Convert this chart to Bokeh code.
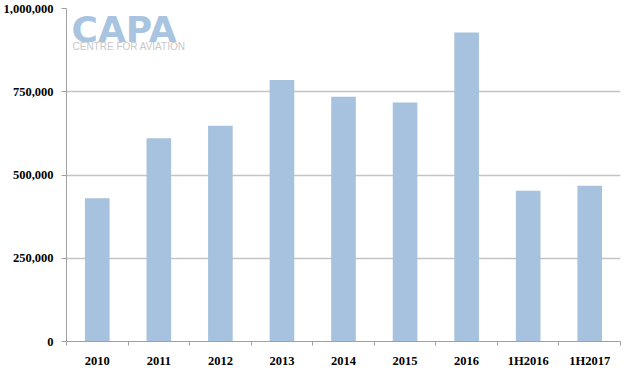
from bokeh.plotting import figure
from bokeh.models import Range1d, FixedTicker, NumeralTickFormatter, Label, ColumnDataSource
from bokeh.embed import file_html
from bokeh.resources import INLINE

categories = ["2010", "2011", "2012", "2013", "2014", "2015", "2016", "1H2016", "1H2017"]
values = [430000, 610000, 648000, 785000, 735000, 718000, 928000, 453000, 468000]
y_ticks = [0, 250000, 500000, 750000, 1000000]

n = len(categories)
centers = [i + 0.5 for i in range(n)]
bounds = [float(i) for i in range(n + 1)]

src = ColumnDataSource(dict(x=centers, top=values, cat=categories))

W, H = 626, 370
BL, BR, BT, BB = 66, 6, 8, 28
FH = H - BT - BB

p = figure(width=W, height=H, output_backend="svg", toolbar_location=None,
           x_range=Range1d(0, n), y_range=Range1d(0, 1000000),
           min_border_left=BL, min_border_right=BR, min_border_top=BT, min_border_bottom=BB)
p.outline_line_color = None
p.background_fill_color = "white"
p.border_fill_color = "white"

p.vbar(x="x", top="top", width=0.4, source=src, fill_color="#a6c2df", line_color=None)

BOLD_SERIF = "Liberation Serif"

# x axis
xa = p.xaxis[0]
xa.ticker = FixedTicker(ticks=centers, minor_ticks=bounds)
xa.major_label_overrides = {c: lab for c, lab in zip(centers, categories)}
xa.major_tick_out = 0
xa.major_tick_in = 0
xa.minor_tick_out = 4
xa.minor_tick_in = 0
xa.minor_tick_line_color = "#a0a0a0"
xa.axis_line_color = "#a0a0a0"
xa.major_label_standoff = 8
xa.major_label_text_font = BOLD_SERIF
xa.major_label_text_font_style = "bold"
xa.major_label_text_font_size = "12.5px"
xa.major_label_text_color = "black"

# y axis
ya = p.yaxis[0]
ya.ticker = FixedTicker(ticks=y_ticks)
ya.formatter = NumeralTickFormatter(format="0,0")
ya.major_tick_out = 5
ya.major_tick_in = 0
ya.minor_tick_line_color = None
ya.major_tick_line_color = "#a0a0a0"
ya.axis_line_color = "#a0a0a0"
ya.major_label_standoff = 8
ya.major_label_text_font = BOLD_SERIF
ya.major_label_text_font_style = "bold"
ya.major_label_text_font_size = "12.5px"
ya.major_label_text_color = "black"

p.xgrid.grid_line_color = None
p.ygrid.ticker = FixedTicker(ticks=y_ticks)
p.ygrid.grid_line_color = "#c4c4c4"
p.ygrid.grid_line_width = 1.5

# logo
p.add_layout(Label(x=5, y=FH - 1, x_units="screen", y_units="screen", text="CAPA",
                   text_font="DejaVu Sans", text_font_style="bold", text_font_size="36px",
                   text_color="#a8c4e0", text_baseline="top"))
p.add_layout(Label(x=6, y=FH - 33, x_units="screen", y_units="screen", text="CENTRE FOR AVIATION",
                   text_font="Liberation Sans", text_font_size="10px",
                   text_color="#c8c8c8", text_baseline="top"))

open("out.html", "w").write(file_html(p, INLINE))
